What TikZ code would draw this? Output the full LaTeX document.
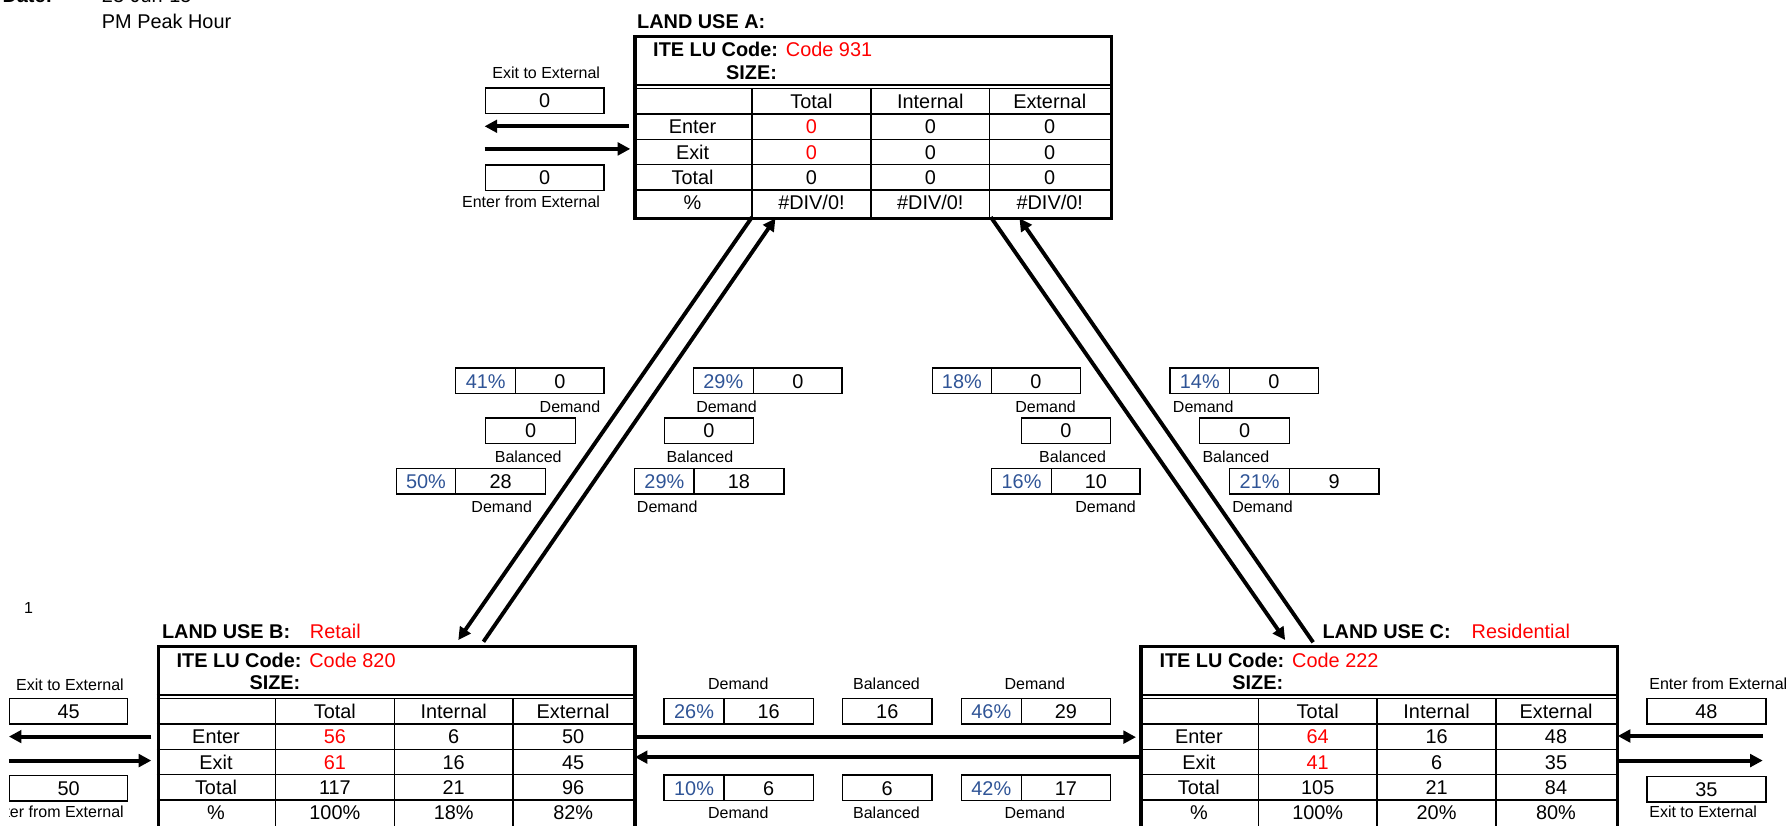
\documentclass[tikz,border=0pt]{standalone}
\usepackage{fontspec}
\setmainfont{Liberation Sans}
\usetikzlibrary{arrows.meta,calc}
\definecolor{pctblue}{RGB}{47,84,150}
\newcommand\rd[1]{\textcolor{red}{#1}}
\newcommand\divz{\#DIV/0!}
\tikzset{
 txt/.style={inner sep=0pt, font=\fontsize{17.4}{20}\selectfont, text height=12.5pt, text depth=0pt},
 btxt/.style={txt, font=\fontsize{17.4}{20}\selectfont\bfseries},
 rtxt/.style={txt, text=red},
 stxt/.style={inner sep=0pt, font=\fontsize{14}{16}\selectfont, text height=10pt, text depth=0pt},
 lubox/.style={draw, line width=3pt, minimum width=417pt, minimum height=159pt, inner sep=0pt},
 gridline/.style={line width=1.2pt},
 cellbox/.style={txt, draw, line width=1.3pt, minimum height=22.4pt},
 bigarrow/.style={line width=3.4pt, -{Triangle[length=11pt,width=11pt]}},
}
% land-use table: #1 name, #2 x, #3 y, #4 code, #5 rows
\newcommand\LUT[5]{%
 \begin{scope}[shift={(#2,#3)}]
  \node[lubox, anchor=north west] (#1) at (0,0) {};
  \node[btxt, anchor=east] (#1ite) at (127,13) {ITE LU Code:};
  \node[rtxt, anchor=west] (#1code) at (133.5,13) {#4};
  \node[btxt, anchor=east] (#1size) at (126,32.5) {SIZE:};
  \draw[line width=2.2pt] (0,43.8) -- (417,43.8);
  \draw[line width=1.2pt] (0,47) -- (417,47);
  \foreach \yy in {69,91.2,113.4,135.6} \draw[gridline] (0,\yy) -- (417,\yy);
  \foreach \xx in {104,208,312} \draw[gridline] (\xx,47) -- (\xx,159);
  \node[txt] (#1-h1) at (156,58) {Total};
  \node[txt] (#1-h2) at (260,58) {Internal};
  \node[txt] (#1-h3) at (364.5,58) {External};
  \foreach \la/\va/\vb/\vc [count=\k] in {#5} {
    \pgfmathsetmacro\yy{58+22.2*\k}
    \node[txt] (#1-\k-0) at (52,\yy) {\la};
    \node[txt] (#1-\k-1) at (156,\yy) {\va};
    \node[txt] (#1-\k-2) at (260,\yy) {\vb};
    \node[txt] (#1-\k-3) at (364.5,\yy) {\vc};
  }
 \end{scope}}
% demand box: #1 name, #2 x1, #3 ytop, #4 xdiv, #5 x2, #6 pct, #7 value
\newcommand\DBox[7]{%
 \node[cellbox, anchor=north west, minimum width={#4-#2}, text=pctblue] (#1p) at (#2,#3) {#6};
 \node[cellbox, anchor=north west, minimum width={#5-#4}] (#1v) at (#4,#3) {#7};}
\begin{document}
\begin{tikzpicture}[x=1pt,y=-1pt]
\useasboundingbox (0,0) rectangle (1568,722);
% heading
\node[btxt, anchor=base west] (date) at (2,2.3) {Date:};
\node[txt, anchor=base west] (datev) at (89,2.3) {23-Jun-15};
\node[txt, anchor=west] (peak) at (89,19) {PM Peak Hour};
\node[stxt] (one) at (25,532) {1};
% land use labels
\node[btxt, anchor=west] (luAlbl) at (557.3,19) {LAND USE A:};
\node[btxt, anchor=west] (luBlbl) at (141.6,552.7) {LAND USE B:};
\node[rtxt, anchor=west] (luBname) at (271,552.7) {Retail};
\node[btxt, anchor=west] (luClbl) at (1157,552.7) {LAND USE C:};
\node[rtxt, anchor=west] (luCname) at (1287.5,552.7) {Residential};
% tables
\LUT{luA}{554}{30.6}{Code 931}{Enter/\rd{0}/0/0, Exit/\rd{0}/0/0, Total/0/0/0, \%/\divz/\divz/\divz}
\LUT{luB}{137}{564.4}{Code 820}{Enter/\rd{56}/6/50, Exit/\rd{61}/16/45, Total/117/21/96, \%/100\%/18\%/82\%}
\LUT{luC}{997}{564.4}{Code 222}{Enter/\rd{64}/16/48, Exit/\rd{41}/6/35, Total/105/21/84, \%/100\%/20\%/80\%}
% external boxes A
\node[stxt, anchor=east] (aExitLbl) at (525.2,64) {Exit to External};
\node[cellbox, anchor=north west, minimum width=104] (aExit) at (424,76.4) {0};
\node[cellbox, anchor=north west, minimum width=104] (aEnter) at (424,143.7) {0};
\node[stxt, anchor=east] (aEnterLbl) at (525.2,176.4) {Enter from External};
\coordinate (aO1) at (550,110.5); \coordinate (aO2) at (424,110.5);
\coordinate (aI1) at (424,130.3); \coordinate (aI2) at (551.5,130.3);
\draw[bigarrow] (aO1) -- (aO2);
\draw[bigarrow] (aI1) -- (aI2);
% external boxes B
\node[stxt, anchor=east] (bExitLbl) at (108.5,599.3) {Exit to External};
\node[cellbox, anchor=north west, minimum width=103.2] (bExit) at (7.8,610.5) {45};
\node[cellbox, anchor=north west, minimum width=103.2] (bEnter) at (7.8,678) {50};
\begin{scope}
\clip (8.3,698) rectangle (130,722);
\node[stxt, anchor=east] (bEnterLbl) at (108.5,710.5) {Enter from External};
\end{scope}
\coordinate (bO1) at (132.4,644.5); \coordinate (bO2) at (7.8,644.5);
\coordinate (bI1) at (7.8,665.5); \coordinate (bI2) at (132.4,665.5);
\draw[bigarrow] (bO1) -- (bO2);
\draw[bigarrow] (bI1) -- (bI2);
% external boxes C
\node[stxt, anchor=west] (cEnterLbl) at (1443,598.5) {Enter from External};
\node[cellbox, anchor=north west, minimum width=104] (cEnter) at (1440.4,610.5) {48};
\node[cellbox, anchor=north west, minimum width=104] (cExit) at (1440.4,678.6) {35};
\node[stxt, anchor=west] (cExitLbl) at (1443,710.5) {Exit to External};
\coordinate (cI1) at (1542.4,644); \coordinate (cI2) at (1415.5,644);
\coordinate (cO1) at (1417,665.5); \coordinate (cO2) at (1542.4,665.5);
\draw[bigarrow] (cI1) -- (cI2);
\draw[bigarrow] (cO1) -- (cO2);
% A <-> B diagonals
\coordinate (ab1) at (658,190); \coordinate (ab2) at (401,560);
\coordinate (ba1) at (423,561.5); \coordinate (ba2) at (678.5,191);
\draw[bigarrow] (ab1) -- (ab2);
\draw[bigarrow] (ba1) -- (ba2);
% A <-> C diagonals
\coordinate (ac1) at (867,190); \coordinate (ac2) at (1124.5,560);
\coordinate (ca1) at (1149,562); \coordinate (ca2) at (892,191);
\draw[bigarrow] (ac1) -- (ac2);
\draw[bigarrow] (ca1) -- (ca2);
% B <-> C horizontals
\coordinate (bc1) at (554,645); \coordinate (bc2) at (994,645);
\coordinate (cb1) at (997,662.5); \coordinate (cb2) at (555.5,662.5);
\draw[bigarrow] (bc1) -- (bc2);
\draw[bigarrow] (cb1) -- (cb2);
% A-B split boxes
\DBox{d1}{398}{321.4}{450.6}{527.8}{41\%}{0}
\node[stxt] (d1l) at (498.7,355.8) {Demand};
\node[cellbox, anchor=north west, minimum width=78.7] (b1) at (424.3,365) {0};
\node[stxt] (b1l) at (462.2,399.5) {Balanced};
\DBox{d2}{346.2}{409.4}{398}{476.8}{50\%}{28}
\node[stxt] (d2l) at (439,443.3) {Demand};
\DBox{d3}{606}{321.4}{658.5}{736.3}{29\%}{0}
\node[stxt] (d3l) at (635.7,355.8) {Demand};
\node[cellbox, anchor=north west, minimum width=77.6] (b2) at (580.9,365) {0};
\node[stxt] (b2l) at (612.4,399.5) {Balanced};
\DBox{d4}{554.7}{409.4}{606.6}{685.3}{29\%}{18}
\node[stxt] (d4l) at (583.8,443.3) {Demand};
% A-C split boxes
\DBox{d5}{815.2}{321.4}{866.8}{944.9}{18\%}{0}
\node[stxt] (d5l) at (914.9,355.8) {Demand};
\node[cellbox, anchor=north west, minimum width=78.2] (b3) at (893,365) {0};
\node[stxt] (b3l) at (938.5,399.5) {Balanced};
\DBox{d6}{866.8}{409.4}{919.6}{996.8}{16\%}{10}
\node[stxt] (d6l) at (967.4,443.3) {Demand};
\DBox{d7}{1023}{321.4}{1075.3}{1152.8}{14\%}{0}
\node[stxt] (d7l) at (1052.8,355.8) {Demand};
\node[cellbox, anchor=north west, minimum width=78.7] (b4) at (1049,365) {0};
\node[stxt] (b4l) at (1081.4,399.5) {Balanced};
\DBox{d8}{1075.3}{409.4}{1127.7}{1205.9}{21\%}{9}
\node[stxt] (d8l) at (1104.7,443.3) {Demand};
% B-C split boxes
\node[stxt] (d9l) at (646,598.5) {Demand};
\DBox{d9}{580.4}{610.6}{632.9}{711}{26\%}{16}
\node[stxt] (b5l) at (775.7,598.5) {Balanced};
\node[cellbox, anchor=north west, minimum width=78.6] (b5) at (736.4,610.6) {16};
\node[stxt] (d10l) at (905.5,598.5) {Demand};
\DBox{d10}{840.5}{610.6}{893}{971}{46\%}{29}
\DBox{d11}{580.4}{677.6}{632.9}{711}{10\%}{6}
\node[stxt] (d11l) at (646,711) {Demand};
\node[cellbox, anchor=north west, minimum width=78.6] (b6) at (736.4,677.6) {6};
\node[stxt] (b6l) at (775.7,711) {Balanced};
\DBox{d12}{840.5}{677.6}{893}{971}{42\%}{17}
\node[stxt] (d12l) at (905.5,711) {Demand};
\end{tikzpicture}
\end{document}
